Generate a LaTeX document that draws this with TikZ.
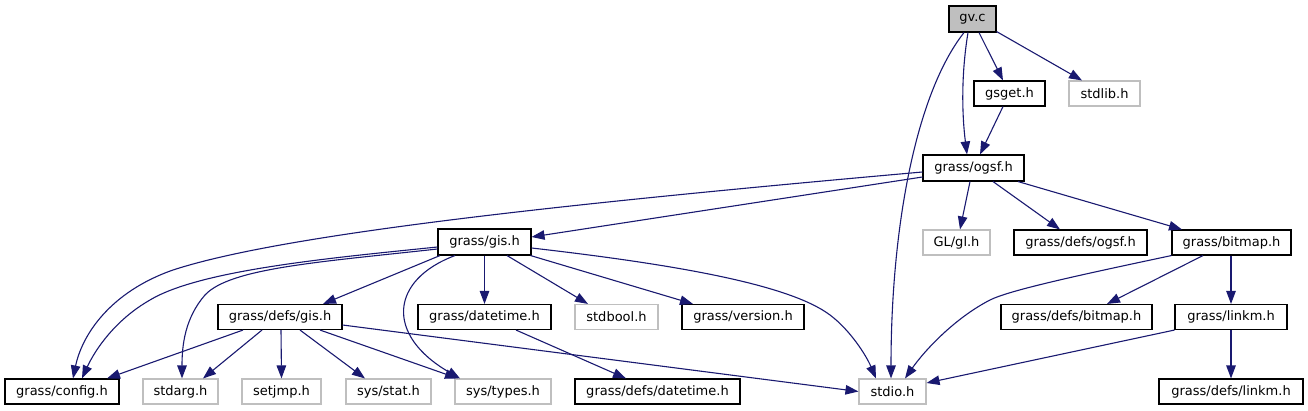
\documentclass[tikz,border=0pt]{standalone}
\usepackage{fontspec}
\setmainfont{DejaVu Sans}
\usetikzlibrary{arrows.meta}
\definecolor{edgec}{HTML}{191970}
\definecolor{grayc}{HTML}{BFBFBF}
\begin{document}
\begin{tikzpicture}[x=1pt,y=-1pt,
  box/.style={draw=black, line width=1.1pt, minimum height=25pt, inner sep=0pt, font=\fontsize{13}{15}\selectfont, text=black},
  gbox/.style={box, draw=grayc},
  dep/.style={draw=edgec, line width=1.1pt, -{Triangle[length=13pt,width=9.5pt]}}]
\useasboundingbox (0,0) rectangle (1308,411);
% row 1
\node[box, fill=grayc, minimum width=47pt, minimum height=26pt] (gvc) at (972.5,19) {gv.c};
% row 2
\node[box, minimum width=71pt] (gsget) at (1009.5,93.5) {gsget.h};
\node[gbox, minimum width=71pt] (stdlib) at (1104.5,93.5) {stdlib.h};
% row 3
\node[box, minimum width=101pt, minimum height=26pt] (ogsf) at (973.5,168) {grass/ogsf.h};
% row 4
\node[box, minimum width=93pt, minimum height=26pt] (gis) at (484.5,242) {grass/gis.h};
\node[gbox, minimum width=67pt] (glgl) at (956.5,242.5) {GL/gl.h};
\node[box, minimum width=133pt] (defsogsf) at (1080.5,242.5) {grass/defs/ogsf.h};
\node[box, minimum width=119pt] (bitmap) at (1231.5,242.5) {grass/bitmap.h};
% row 5
\node[box, minimum width=124pt] (defsgis) at (280,317) {grass/defs/gis.h};
\node[box, minimum width=133pt] (datetime) at (484.5,317) {grass/datetime.h};
\node[gbox, minimum width=83pt] (stdbool) at (616.5,317) {stdbool.h};
\node[box, minimum width=122pt] (version) at (743,317) {grass/version.h};
\node[box, minimum width=151pt] (defsbitmap) at (1076.5,317) {grass/defs/bitmap.h};
\node[box, minimum width=112pt] (linkm) at (1231,317) {grass/linkm.h};
% row 6
\node[box, minimum width=114pt] (config) at (62,391.5) {grass/config.h};
\node[gbox, minimum width=75pt] (stdarg) at (180.5,391.5) {stdarg.h};
\node[gbox, minimum width=79pt] (setjmp) at (281.5,391.5) {setjmp.h};
\node[gbox, minimum width=85pt] (sysstat) at (388.5,391.5) {sys/stat.h};
\node[gbox, minimum width=96pt] (systypes) at (503,391.5) {sys/types.h};
\node[box, minimum width=165pt] (defsdatetime) at (657.5,391.5) {grass/defs/datetime.h};
\node[gbox, minimum width=67pt] (stdio) at (892.5,391.5) {stdio.h};
\node[box, minimum width=144pt] (defslinkm) at (1231,391.5) {grass/defs/linkm.h};

% edges from gv.c
\draw[dep] ([xshift=-8.5]gvc.south) .. controls (915,95) and (891,230) .. ([xshift=-1.5]stdio.north);
\draw[dep] ([xshift=-4.5]gvc.south) .. controls (961,75) and (962,115) .. ([xshift=-6.5]ogsf.north);
\draw[dep] ([xshift=6.5]gvc.south) -- ([xshift=-6.5]gsget.north);
\draw[dep] ([yshift=1]gvc.south east) -- ([xshift=-22.5]stdlib.north);
\draw[dep] ([xshift=-6.5]gsget.south) -- ([xshift=6.5]ogsf.north);
% edges from grass/ogsf.h
\draw[dep] ([yshift=-4]ogsf.west) .. controls (550,205) and (280,235) .. (173,270) .. controls (110,292) and (82,335) .. ([xshift=11]config.north);
\draw[dep] ([yshift=-9]ogsf.west) -- ([yshift=5]gis.east);
\draw[dep] ([xshift=-3.5]ogsf.south) -- ([xshift=3.5]glgl.north);
\draw[dep] ([xshift=19.5]ogsf.south) -- ([xshift=-20.5]defsogsf.north);
\draw[dep] ([xshift=44.5]ogsf.south) -- ([xshift=-49.5]bitmap.north);
% edges from grass/gis.h
\draw[dep] ([yshift=-5]gis.west) .. controls (330,258) and (200,270) .. (150,300) .. controls (115,320) and (95,350) .. ([xshift=20]config.north);
\draw[dep] ([yshift=-7]gis.west) .. controls (320,262) and (230,268) .. (205,295) .. controls (185,318) and (182,345) .. ([xshift=1.5]stdarg.north);
\draw[dep] ([xshift=-44.5]gis.south) -- ([xshift=43]defsgis.north);
\draw[dep] ([xshift=-29.5]gis.south) .. controls (390,280) and (385,335) .. ([xshift=-43]systypes.north);
\draw[dep] (gis.south) -- (datetime.north);
\draw[dep] ([xshift=22.5]gis.south) -- ([xshift=-28.5]stdbool.north);
\draw[dep] ([xshift=-1]gis.south east) -- ([xshift=-50]version.north);
\draw[dep] ([yshift=-6]gis.east) .. controls (680,265) and (790,285) .. (830,315) .. controls (850,330) and (866,355) .. ([xshift=-16.5]stdio.north);
% edges from grass/defs/gis.h
\draw[dep] ([xshift=-37]defsgis.south) -- ([xshift=45]config.north);
\draw[dep] ([xshift=-18]defsgis.south) -- ([xshift=22.5]stdarg.north);
\draw[dep] ([xshift=1]defsgis.south) -- (setjmp.north);
\draw[dep] ([xshift=20]defsgis.south) -- ([xshift=-23.5]sysstat.north);
\draw[dep] ([xshift=40]defsgis.south) -- ([xshift=-45]systypes.north);
\draw[dep] ([yshift=-8]defsgis.east) -- (stdio.west);
% grass/datetime.h
\draw[dep] ([xshift=31.5]datetime.south) -- ([xshift=-31.5]defsdatetime.north);
% grass/bitmap.h
\draw[dep] (bitmap.south west) .. controls (1080,275) and (1010,290) .. (990,300) .. controls (955,318) and (925,350) .. ([xshift=12.5]stdio.north);
\draw[dep] ([xshift=-28.5]bitmap.south) -- ([xshift=30.5]defsbitmap.north);
\draw[dep] ([xshift=-0.5]bitmap.south) -- (linkm.north);
% grass/linkm.h
\draw[dep] (linkm.south west) -- ([yshift=8.5]stdio.east);
\draw[dep] (linkm.south) -- (defslinkm.north);
\end{tikzpicture}
\end{document}
